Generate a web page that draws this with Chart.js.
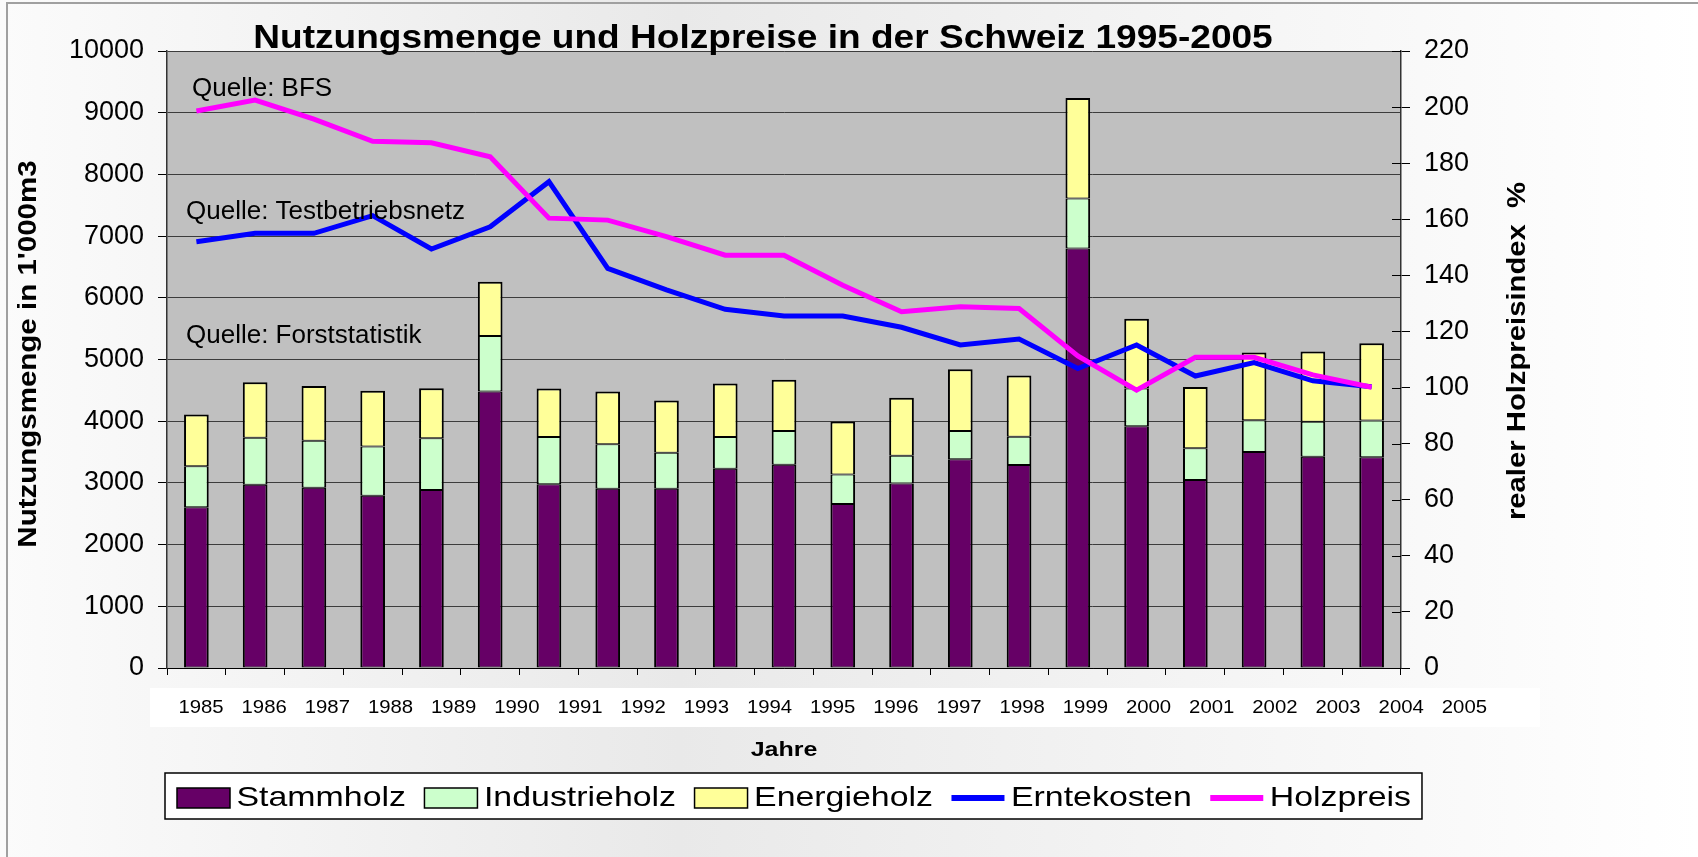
<!DOCTYPE html>
<html lang="de">
<head>
<meta charset="utf-8">
<title>Nutzungsmenge und Holzpreise in der Schweiz 1995-2005</title>
<script src="https://cdn.jsdelivr.net/npm/chart.js@4.4.1/dist/chart.umd.min.js"></script>
<style>
  html, body { margin: 0; padding: 0; background: #ffffff; }
  #wrap { position: relative; width: 1698px; height: 857px; }
</style>
</head>
<body>
<div id="wrap"><canvas id="holz-chart"></canvas></div>
<script>
// Daten
const jahre = ["1985", "1986", "1987", "1988", "1989", "1990", "1991", "1992", "1993", "1994", "1995",
  "1996", "1997", "1998", "1999", "2000", "2001", "2002", "2003", "2004", "2005"];

// Nutzungsmenge in 1'000 m3
const stammholz = [2605, 2970, 2920, 2790, 2885, 4480, 2980, 2905, 2905, 3230, 3295,
  2660, 2990, 3385, 3290, 6800, 3920, 3045, 3500, 3425, 3415];
const industrieholz = [665, 760, 765, 800, 840, 900, 765, 720, 585, 515, 545,
  475, 450, 455, 460, 810, 610, 515, 515, 565, 595];
const energieholz = [840, 900, 885, 905, 810, 880, 785, 855, 845, 865, 830,
  860, 940, 1000, 990, 1630, 1130, 995, 1100, 1140, 1255];

// realer Holzpreisindex in %
const erntekosten = [152.0, 155.0, 155.0, 161.3, 149.4, 157.3, 173.4, 142.5, 134.8, 127.9, 125.5,
  125.5, 121.5, 115.2, 117.3, 106.8, 115.2, 104.1, 108.9, 102.4, 100.3];
const holzpreis = [198.6, 202.5, 195.7, 187.8, 187.3, 182.3, 160.4, 159.7, 153.8, 147.2, 147.2,
  136.5, 127.0, 128.8, 128.2, 111.3, 99.1, 110.8, 110.8, 104.5, 100.1];

const titel = "Nutzungsmenge und Holzpreise in der Schweiz 1995-2005";
const titelLinks = "Nutzungsmenge in 1'000m3";
const titelRechts = "realer Holzpreisindex  %";
const titelX = "Jahre";
const quellen = [
  { text: "Quelle: BFS", wert: 9000, dx: 25 },
  { text: "Quelle: Testbetriebsnetz", wert: 7000, dx: 19 },
  { text: "Quelle: Forststatistik", wert: 5000, dx: 19 },
];

const FONT = "'Liberation Sans', Arial, sans-serif";
Chart.defaults.font.family = FONT;
Chart.defaults.color = "#000000";

// Text horizontal gestreckt zeichnen (Original ist breit gerendert)
function streckText(ctx, text, x, y, sx, align, winkel) {
  ctx.save();
  ctx.translate(x, y);
  if (winkel) ctx.rotate(winkel);
  ctx.scale(sx, 1);
  ctx.textAlign = align;
  ctx.fillText(text, 0, 0);
  ctx.restore();
}

// Hintergrund, Rahmen und graue Plotfläche
const hintergrundPlugin = {
  id: "hintergrund",
  beforeDraw(chart) {
    const { ctx, width, height, chartArea } = chart;
    ctx.save();
    const grad = ctx.createLinearGradient(0, 0, width, 0);
    grad.addColorStop(0, "#fbfbfb");
    grad.addColorStop(0.4, "#e9e9e9");
    grad.addColorStop(1, "#ffffff");
    ctx.fillStyle = grad;
    ctx.fillRect(0, 0, width, height);

    ctx.strokeStyle = "#a0a0a0";
    ctx.lineWidth = 2;
    ctx.beginPath();
    ctx.moveTo(7, height);
    ctx.lineTo(7, 3);
    ctx.lineTo(width, 3);
    ctx.stroke();

    // weisses Band hinter den Jahreszahlen
    ctx.fillStyle = "#ffffff";
    ctx.fillRect(150, chartArea.bottom + 20, 1390, 39);

    ctx.fillStyle = "#c0c0c0";
    ctx.fillRect(chartArea.left, chartArea.top, chartArea.width, chartArea.height);
    ctx.restore();
  },
};

// Quellenangaben im Plot
const quellenPlugin = {
  id: "quellen",
  afterDatasetsDraw(chart) {
    const { ctx, chartArea, scales } = chart;
    ctx.save();
    ctx.font = "26px " + FONT;
    ctx.fillStyle = "#000000";
    ctx.textAlign = "left";
    ctx.textBaseline = "alphabetic";
    quellen.forEach((q) => {
      const y = scales.y.getPixelForValue(q.wert) - 17;
      ctx.fillText(q.text, chartArea.left + q.dx, y);
    });
    ctx.restore();
  },
};

// Titel, Achsentitel, Jahreszahlen, Legende
const textPlugin = {
  id: "texte",
  afterDraw(chart) {
    const { ctx, chartArea, scales } = chart;
    ctx.save();
    ctx.fillStyle = "#000000";

    // Haupttitel
    ctx.font = "bold 34px " + FONT;
    ctx.textBaseline = "alphabetic";
    streckText(ctx, titel, 763, 47.5, 1.09, "center");

    // Achsentitel
    ctx.font = "bold 25px " + FONT;
    ctx.textBaseline = "middle";
    streckText(ctx, titelLinks, 29, 354, 1.18, "center", -Math.PI / 2);
    streckText(ctx, titelRechts, 1518, 351, 1.17, "center", -Math.PI / 2);

    // innere Striche der rechten Achse
    ctx.strokeStyle = "#000000";
    ctx.lineWidth = 1;
    scales.y1.ticks.forEach((t, i) => {
      const y = Math.round(scales.y1.getPixelForTick(i)) + 0.5;
      ctx.beginPath();
      ctx.moveTo(chartArea.right - 9, y);
      ctx.lineTo(chartArea.right, y);
      ctx.stroke();
    });

    // Jahreszahlen im Band
    ctx.font = "19px " + FONT;
    const bandY = chartArea.bottom + 40;
    jahre.forEach((j, i) => {
      streckText(ctx, j, chartArea.left + 34 + i * 63.17, bandY, 1.07, "center");
    });

    ctx.font = "bold 20px " + FONT;
    streckText(ctx, titelX, 784, chartArea.bottom + 82, 1.25, "center");

    // Legende
    const sx = 1.21;
    const ly = chartArea.bottom + 128;
    ctx.font = "28px " + FONT;
    let x = 177;
    const eintraege = chart.data.datasets.map((ds) => {
      const e = { ds, x, textX: x + 59.5, w: ctx.measureText(ds.label).width * sx };
      x = e.textX + e.w + 18.5;
      return e;
    });
    const rechts = x - 18.5 + 11;
    ctx.fillStyle = "#ffffff";
    ctx.fillRect(165, ly - 23, rechts - 165, 46);
    ctx.strokeStyle = "#000000";
    ctx.lineWidth = 1.5;
    ctx.strokeRect(165, ly - 23, rechts - 165, 46);

    eintraege.forEach((e) => {
      if (e.ds.type === "line") {
        ctx.fillStyle = e.ds.borderColor;
        ctx.fillRect(e.x, ly - 1, 53, 6);
      } else {
        ctx.fillStyle = e.ds.backgroundColor;
        ctx.fillRect(e.x, ly - 8, 53, 20);
        ctx.strokeStyle = "#000000";
        ctx.lineWidth = 1.5;
        ctx.strokeRect(e.x, ly - 8, 53, 20);
      }
      ctx.fillStyle = "#000000";
      ctx.textBaseline = "middle";
      streckText(ctx, e.ds.label, e.textX, ly + 2, sx, "left");
    });
    ctx.restore();
  },
};

const tickFont = { size: 27, family: FONT };
const ohneTrenner = (wert) => String(wert);

const canvas = document.getElementById("holz-chart");
new Chart(canvas, {
  type: "bar",
  data: {
    labels: jahre,
    datasets: [
      {
        label: "Stammholz",
        data: stammholz,
        backgroundColor: "#660066",
        borderColor: "#000000",
        borderWidth: { top: 1, bottom: 1, left: 2, right: 2 },
        borderSkipped: false,
        yAxisID: "y",
        order: 2,
      },
      {
        label: "Industrieholz",
        data: industrieholz,
        backgroundColor: "#ccffcc",
        borderColor: "#000000",
        borderWidth: { top: 1, bottom: 1, left: 2, right: 2 },
        borderSkipped: false,
        yAxisID: "y",
        order: 2,
      },
      {
        label: "Energieholz",
        data: energieholz,
        backgroundColor: "#ffff99",
        borderColor: "#000000",
        borderWidth: { top: 2, bottom: 1, left: 2, right: 2 },
        borderSkipped: false,
        yAxisID: "y",
        order: 2,
      },
      {
        type: "line",
        label: "Erntekosten",
        data: erntekosten,
        borderColor: "#0000ff",
        backgroundColor: "#0000ff",
        borderWidth: 5,
        pointRadius: 0,
        tension: 0,
        yAxisID: "y1",
        order: 1,
      },
      {
        type: "line",
        label: "Holzpreis",
        data: holzpreis,
        borderColor: "#ff00ff",
        backgroundColor: "#ff00ff",
        borderWidth: 5,
        pointRadius: 0,
        tension: 0,
        yAxisID: "y1",
        order: 0,
      },
    ],
  },
  options: {
    responsive: true,
    maintainAspectRatio: false,
    animation: false,
    layout: { padding: { top: 51, left: 0, right: 0, bottom: 0 } },
    datasets: {
      bar: { categoryPercentage: 1, barPercentage: 0.42 },
    },
    plugins: {
      legend: { display: false },
      title: { display: false },
      tooltip: { enabled: true },
    },
    scales: {
      x: {
        stacked: true,
        offset: true,
        grid: { offset: true, drawOnChartArea: false, tickLength: 7, tickColor: "#000000" },
        border: { color: "#000000", width: 1 },
        ticks: { display: false },
        afterFit(scale) {
          scale.height = 189;
        },
      },
      y: {
        stacked: true,
        position: "left",
        min: 0,
        max: 10000,
        ticks: { stepSize: 1000, font: tickFont, color: "#000000", padding: 14, callback: ohneTrenner },
        grid: { color: "#3c3c3c", tickColor: "#000000", tickLength: 9 },
        border: { color: "#333333", width: 1.5 },
        afterFit(scale) {
          scale.width = 167;
        },
      },
      y1: {
        position: "right",
        min: 0,
        max: 220,
        ticks: { stepSize: 20, font: tickFont, color: "#000000", padding: 14, callback: ohneTrenner },
        grid: { drawOnChartArea: false, tickColor: "#000000", tickLength: 9 },
        border: { color: "#333333", width: 1.5 },
        afterFit(scale) {
          scale.width = 297;
        },
      },
    },
  },
  plugins: [hintergrundPlugin, quellenPlugin, textPlugin],
});
</script>
</body>
</html>
